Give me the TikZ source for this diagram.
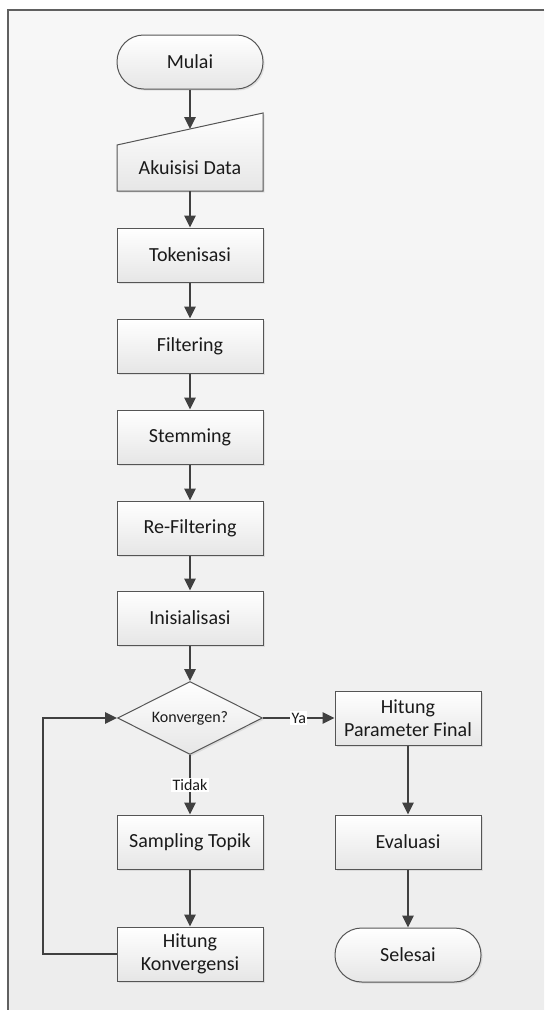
\documentclass[tikz,border=0pt]{standalone}
\usepackage{fontspec}
\setmainfont{Carlito}
\usetikzlibrary{arrows.meta,shapes.geometric,shadows}

\begin{document}
\begin{tikzpicture}[x=0.75pt,y=-0.75pt,font=\fontsize{15}{17.5}\selectfont,
  box/.style={draw=edge,line width=0.75pt,top color=white,bottom color=boxbot,
    minimum width=109.5pt,minimum height=40.5pt,inner sep=2pt,align=center,text=ink,
    drop shadow={opacity=0.18,shadow xshift=1.2pt,shadow yshift=-1.2pt}},
  term/.style={box,rounded corners=20pt},
  decision/.style={box,diamond,aspect=2,minimum width=108.75pt,minimum height=54.75pt,
    inner sep=0pt,font=\fontsize{12}{14}\selectfont},
  flow/.style={-{Triangle[length=9pt,width=8.5pt]},line width=1.2pt,draw=line},
  lbl/.style={fill=white,inner sep=1pt,font=\fontsize{12}{14}\selectfont,text=ink}]
\definecolor{ink}{HTML}{1A1A1A}\definecolor{edge}{HTML}{555555}
\definecolor{line}{HTML}{404040}\definecolor{boxbot}{HTML}{E6E6E6}
\definecolor{bgtop}{HTML}{F7F7F7}\definecolor{bgbot}{HTML}{EDEDED}
\definecolor{frame}{HTML}{606060}
\useasboundingbox (0,0) rectangle (544,1010);
% background panel
\fill[top color=bgtop,bottom color=bgbot] (8,10) rectangle (544,1010);
\draw[frame,line width=1pt] (544,10) -- (8,10) -- (8,1010);
% main column
\node[term] (mulai) at (190,62) {Mulai};
\path[draw=edge,line width=0.75pt,top color=white,bottom color=boxbot,
  drop shadow={opacity=0.18,shadow xshift=1.2pt,shadow yshift=-1.2pt}]
  (117,191) -- (117,145) -- (263,113) -- (263,191) -- cycle;
\node[text=ink] (akuisisi) at (190,168) {Akuisisi Data};
\coordinate (slant) at (190,129);
\node[box] (token) at (190,255) {Tokenisasi};
\node[box] (filter) at (190,346) {Filtering};
\node[box] (stem) at (190,437) {Stemming};
\node[box] (refilter) at (190,528) {Re-Filtering};
\node[box] (init) at (190,618) {Inisialisasi};
\node[decision] (konv) at (190,718) {Konvergen?};
\node[box] (sampling) at (190,842) {Sampling Topik};
\node[box] (hitkonv) at (190,954) {Hitung\\Konvergensi};
% right column
\node[box] (hitpar) at (408,718) {Hitung\\Parameter Final};
\node[box] (eval) at (408,842) {Evaluasi};
\node[term] (selesai) at (408,955) {Selesai};
% connectors
\draw[flow] (mulai.south) -- (slant);
\draw[flow] (akuisisi.south |- 0,191) -- (token.north);
\draw[flow] (token) -- (filter);
\draw[flow] (filter) -- (stem);
\draw[flow] (stem) -- (refilter);
\draw[flow] (refilter) -- (init);
\draw[flow] (init) -- (konv);
\draw[flow] (konv.east) -- node[lbl] {Ya} (hitpar.west);
\draw[flow] (konv.south) -- node[lbl] {Tidak} (sampling.north);
\draw[flow] (sampling) -- (hitkonv);
\draw[flow] (hitkonv.west) -- (43,954) |- (konv.west);
\draw[flow] (hitpar) -- (eval);
\draw[flow] (eval) -- (selesai);
\end{tikzpicture}
\end{document}
